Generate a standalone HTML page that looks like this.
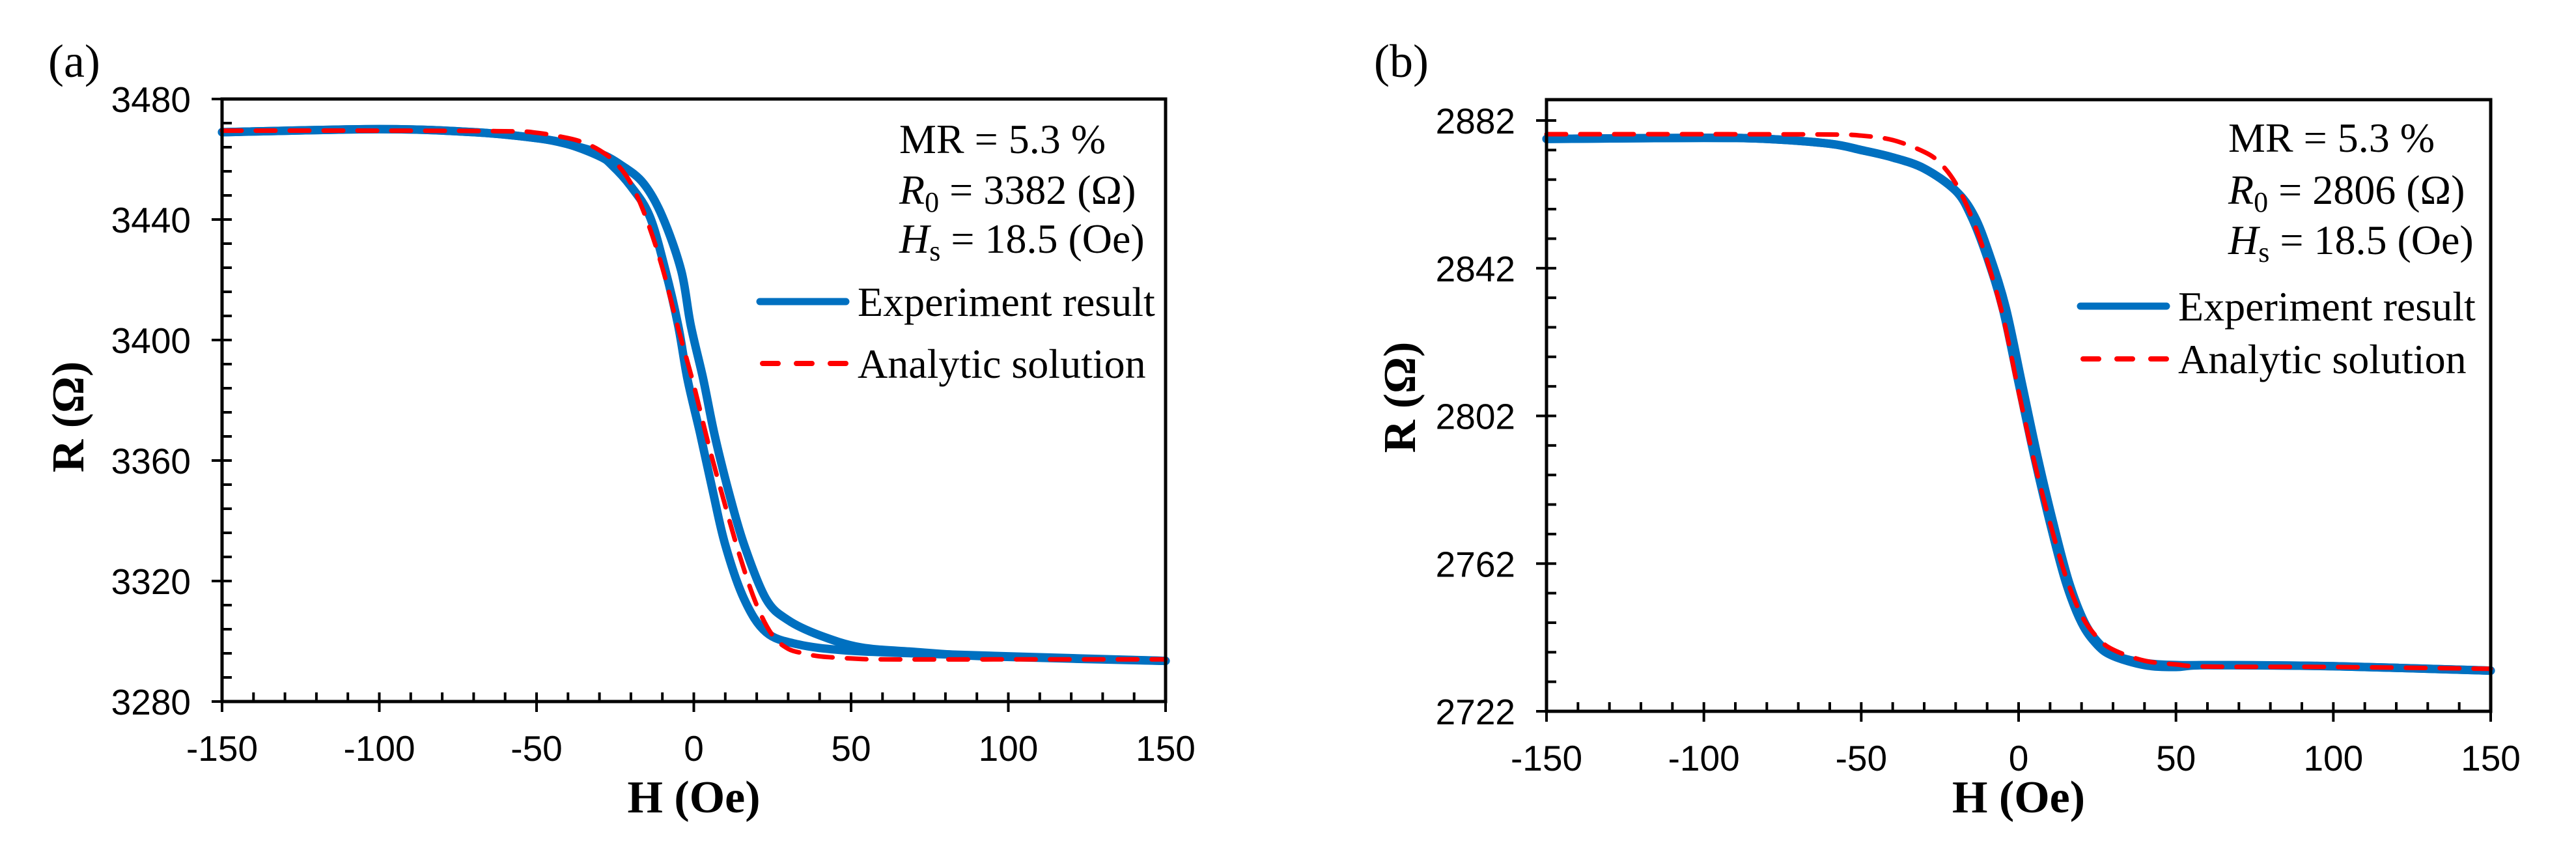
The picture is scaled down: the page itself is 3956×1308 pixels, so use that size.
<!DOCTYPE html>
<html><head><meta charset="utf-8"><style>
html,body{margin:0;padding:0;background:#fff;width:3956px;height:1308px;overflow:hidden}
svg{display:block}
.tick{font-family:"Liberation Sans",sans-serif;font-size:55px;fill:#000}
.tm{font-family:"Liberation Serif",serif;fill:#000}
</style></head><body>
<svg id="fig" width="3956" height="1308" viewBox="0 0 3956 1308" xmlns="http://www.w3.org/2000/svg">
<rect width="3956" height="1308" fill="#fff"/>
</svg>
<script>
// ---- Panel (a) data ----
const aRedH = [-150,-100,-60,-50,-40,-35,-30,-25,-20,-15,-10,-5,0,5,10,15,20,25,30,35,40,50,60,100,150];
const aRedR = [3469.5,3469.5,3469.3,3468.8,3467,3465.5,3463,3459,3452,3440,3424,3404,3385,3364,3345,3327,3312,3302,3297.5,3296,3295,3294.3,3294,3294,3294];
const aBlue1H = [-150,-100,-70,-50,-40,-30,-26,-20,-14,-9,-5,-2,2,6,10,16,23,33,48,70,100,150];
const aBlue1R = [3469,3470,3469,3467,3465,3461,3458,3451,3441,3423,3405,3387,3369,3350,3332,3314,3303,3299,3297,3296,3295,3293.5];
const aBlue2H = [-150,-100,-70,-50,-40,-30,-23,-16,-10,-4,-1,3,6.5,11,16,23,30,40,53,70,93,150];
const aBlue2R = [3469,3470,3469,3467,3465,3462,3458,3452,3441,3423,3405,3387,3369,3350,3332,3314,3307,3302,3298,3296.5,3295,3293.5];
const aYTicks = [3280,3320,3360,3400,3440,3480];
// ---- Panel (b) data ----
const bRedH = [-150,-100,-60,-50,-40,-30,-25,-20,-15,-10,-5,0,5,10,15,20,25,30,40,50,60,100,150];
const bRedR = [2878.3,2878.3,2878.2,2877.9,2876.7,2873.5,2870.5,2865,2856,2844,2829,2808.6,2789.5,2773,2758.5,2748,2742,2738.7,2735.7,2734.7,2734.1,2734,2733.5];
const bBlue1H = [-150,-100,-80,-60,-50,-40,-30,-20,-15,-10,-5,0,5,10,15,20,25,30,40,50,60,100,150];
const bBlue1R = [2877,2877.3,2877,2875.7,2874,2872,2869,2863,2856,2845,2831,2811,2791,2773,2757,2746,2740,2737,2734.5,2734,2734.5,2734.2,2733];
const bBlue2H = [-150,-100,-80,-60,-50,-40,-30,-20,-14,-9,-4,1,6,11,16,21,26,31,41,51,60,100,150];
const bBlue2R = [2877,2877.3,2877,2875.7,2874,2872,2869,2863,2856,2845,2831,2811,2791,2773,2757,2746,2740,2737,2735,2734.5,2734.5,2734.2,2733];
const bYTicks = [2722,2762,2802,2842,2882];
const xTicks = [-150,-100,-50,0,50,100,150];

const NS = "http://www.w3.org/2000/svg";
const svg = document.getElementById('fig');
function mk(tag, attrs, parent){const e=document.createElementNS(NS,tag);for(const k in attrs)e.setAttribute(k,attrs[k]);(parent||svg).appendChild(e);return e;}
function smooth(pts){
  let d='M'+pts[0][0].toFixed(1)+' '+pts[0][1].toFixed(1);
  for(let i=0;i<pts.length-1;i++){
    const p0=pts[Math.max(0,i-1)],p1=pts[i],p2=pts[i+1],p3=pts[Math.min(pts.length-1,i+2)];
    const c1=[p1[0]+(p2[0]-p0[0])/6,p1[1]+(p2[1]-p0[1])/6];
    const c2=[p2[0]-(p3[0]-p1[0])/6,p2[1]-(p3[1]-p1[1])/6];
    d+=` C${c1[0].toFixed(1)} ${c1[1].toFixed(1)} ${c2[0].toFixed(1)} ${c2[1].toFixed(1)} ${p2[0].toFixed(1)} ${p2[1].toFixed(1)}`;
  }
  return d;
}

function panel(cfg){
  const g = mk('g',{});
  
  
  const X = h => cfg.x0 + (h+150)/300*(cfg.x1-cfg.x0);
  const Y = r => cfg.yb - (r-cfg.rmin)/(cfg.rTopTick-cfg.rmin)*(cfg.yb-cfg.yTopTick);
  const path = (H,R) => smooth(H.map((h,i)=>[X(h),Y(R[i])]));
  [[cfg.b1H,cfg.b1R,'branch-1'],[cfg.b2H,cfg.b2R,'branch-2']].forEach(([H,R,n])=>{
    const p = mk('path',{d:path(H,R),fill:'none',stroke:'#0070C0','stroke-width':13,'stroke-linejoin':'round','stroke-linecap':'round'},g);
    
    
  });
  const rp = mk('path',{d:path(cfg.rH,cfg.rR),fill:'none',stroke:'#FF0000','stroke-width':7,'stroke-dasharray':'30 22','stroke-linecap':'round'},g);
  
  
  const fr = mk('rect',{x:cfg.x0,y:cfg.yt,width:cfg.x1-cfg.x0,height:cfg.yb-cfg.yt,fill:'none',stroke:'#000','stroke-width':5},g);
  
  
  for(let r=cfg.rmin; Y(r)>=cfg.yt-1; r+=8){
    const yy=Y(r);
    const major = cfg.yTicks.includes(Math.round(r));
    mk('line',{x1:major?cfg.x0-16:cfg.x0,x2:cfg.x0+15,y1:yy,y2:yy,stroke:'#000','stroke-width':4},g);
  }
  cfg.yTicks.forEach(v=>{
    const t = mk('text',{x:cfg.x0-48,y:Y(v)+20,'text-anchor':'end',class:'tick'},g);
    t.textContent = v;
    
    
  });
  for(let h=-150; h<=150; h+=10){
    const xx=X(h), major = h%50===0;
    mk('line',{x1:xx,x2:xx,y1:cfg.yb-14,y2:major?cfg.yb+16:cfg.yb,stroke:'#000','stroke-width':4},g);
  }
  xTicks.forEach(v=>{
    const t = mk('text',{x:X(v),y:cfg.xlb,'text-anchor':'middle',class:'tick'},g);
    t.textContent = v;
    
    
  });
  const xt = mk('text',{x:(cfg.x0+cfg.x1)/2,y:1247,'text-anchor':'middle',class:'tm','font-size':70,'font-weight':'bold'},g);
  xt.textContent='H (Oe)';
  
  
  const yt = mk('text',{x:0,y:0,'text-anchor':'middle',class:'tm','font-size':70,'font-weight':'bold',transform:`translate(${cfg.ytx},${cfg.yty}) rotate(-90)`},g);
  yt.textContent='R (Ω)';
  
  
  const pl = mk('text',{x:cfg.plx,y:118,class:'tm','font-size':72},g);
  pl.textContent='('+cfg.id+')';
  
  
  const ax=cfg.annX;
  const a1 = mk('text',{x:ax,y:cfg.ay[0],class:'tm','font-size':64},g);
  a1.textContent='MR = 5.3 %';
  
  
  const a2 = mk('text',{x:ax,y:cfg.ay[1],class:'tm','font-size':64},g);
  a2.innerHTML='<tspan font-style="italic">R</tspan><tspan font-size="44" dy="12">0</tspan><tspan dy="-12"> = '+cfg.r0+' (Ω)</tspan>';
  
  
  const a3 = mk('text',{x:ax,y:cfg.ay[2],class:'tm','font-size':64},g);
  a3.innerHTML='<tspan font-style="italic">H</tspan><tspan font-size="44" dy="12">s</tspan><tspan dy="-12"> = 18.5 (Oe)</tspan>';
  
  
  const lg = mk('g',{},g);
  
  
  mk('line',{x1:cfg.lx,x2:cfg.lx+132,y1:cfg.ly[0],y2:cfg.ly[0],stroke:'#0070C0','stroke-width':11,'stroke-linecap':'round'},lg);
  const l1 = mk('text',{x:cfg.lx+150,y:cfg.ly[0]+22,class:'tm','font-size':64},lg);
  l1.textContent='Experiment result';
  
  
  mk('line',{x1:cfg.lx+4,x2:cfg.lx+132,y1:cfg.ly[1],y2:cfg.ly[1],stroke:'#FF0000','stroke-width':8,'stroke-dasharray':'24 28','stroke-linecap':'round'},lg);
  const l2 = mk('text',{x:cfg.lx+150,y:cfg.ly[1]+22,class:'tm','font-size':64},lg);
  l2.textContent='Analytic solution';
  
  
}

panel({id:'a',x0:341,x1:1790,yt:152,yb:1077,yTopTick:152,rTopTick:3480,rmin:3280,yTicks:aYTicks,xlb:1168,
  rH:aRedH,rR:aRedR,b1H:aBlue1H,b1R:aBlue1R,b2H:aBlue2H,b2R:aBlue2R,
  ytx:128,yty:640,plx:74,annX:1381,ay:[235,313,388],r0:3382,lx:1167,ly:[463,558]});
panel({id:'b',x0:2375,x1:3825,yt:153,yb:1092,yTopTick:185,rTopTick:2882,rmin:2722,yTicks:bYTicks,xlb:1183,
  rH:bRedH,rR:bRedR,b1H:bBlue1H,b1R:bBlue1R,b2H:bBlue2H,b2R:bBlue2R,
  ytx:2173,yty:610,plx:2110,annX:3422,ay:[233,313,390],r0:2806,lx:3195,ly:[470,551]});
</script>
</body></html>
